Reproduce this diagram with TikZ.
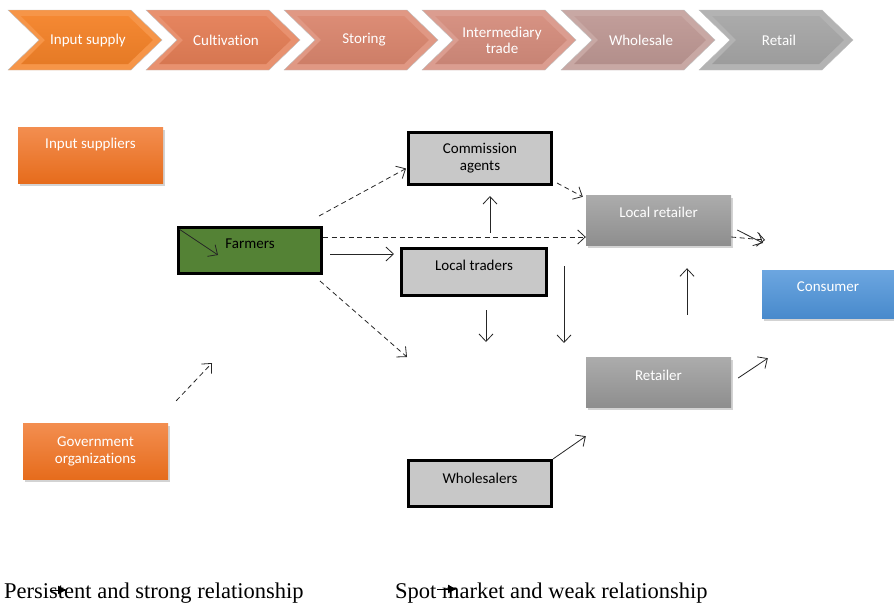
\documentclass[tikz,border=0pt]{standalone}
\usepackage{fontspec}
\setmainfont[Ligatures=NoCommon]{Carlito}
\newfontfamily\legendfont{Liberation Serif}
\usetikzlibrary{arrows.meta,shadows,calc}

\definecolor{chA}{RGB}{244,130,40}
\definecolor{chB}{RGB}{228,126,86}
\definecolor{chC}{RGB}{218,134,110}
\definecolor{chD}{RGB}{212,140,124}
\definecolor{chE}{RGB}{190,152,148}
\definecolor{chF}{RGB}{166,166,166}
\definecolor{orTop}{RGB}{243,142,80}
\definecolor{orBot}{RGB}{230,108,28}
\definecolor{grTop}{RGB}{172,172,172}
\definecolor{grBot}{RGB}{142,142,142}
\definecolor{blTop}{RGB}{108,166,224}
\definecolor{blBot}{RGB}{72,138,204}
\definecolor{farmgreen}{RGB}{84,130,53}
\definecolor{boxgrey}{RGB}{200,200,200}

\begin{document}
\begin{tikzpicture}[x=1pt,y=-1pt,
  font=\fontsize{15}{17}\selectfont,
  chevtext/.style={text=white, align=center, font=\fontsize{15}{16}\selectfont},
  softbox/.style={rectangle, draw=none, shading=axis,
    drop shadow={opacity=0.35, shadow xshift=2pt, shadow yshift=-3pt}},
  orangebox/.style={softbox, top color=orTop, bottom color=orBot},
  greybox/.style={softbox, top color=grTop, bottom color=grBot},
  bluebox/.style={softbox, top color=blTop, bottom color=blBot},
  strongbox/.style={rectangle, draw=black, line width=3pt, fill=boxgrey},
  toptext/.style={text=white, anchor=north, align=center},
  solidarrow/.style={draw=black!85, line width=0.8pt,
    -{Straight Barb[length=7.5pt,width=14pt]}},
  dasharrow/.style={solidarrow, dash pattern=on 5pt off 3.5pt},
  legendtext/.style={anchor=base west, inner sep=0pt,
    font=\legendfont\fontsize{22.5}{26}\selectfont},
  legendarrow/.style={draw=black, line width=0.8pt,
    -{Latex[length=9pt,width=9pt]}}
]
\useasboundingbox (0,0) rectangle (894,603);

% value-chain chevrons
\foreach \i/\xo/\col/\txt in {1/8/chA/Input supply, 2/146/chB/Cultivation,
    3/284/chC/Storing, 4/422/chD/{Intermediary\\trade},
    5/561/chE/Wholesale, 6/699/chF/Retail} {
  \fill[\col!85!white, draw=black!25, line width=0.4pt]
    (\xo,10) -- (\xo+123,10) -- (\xo+154,40) -- (\xo+123,70)
    -- (\xo,70) -- (\xo+31,40) -- cycle;
  \shade[top color=\col!95!white, bottom color=\col!94!black]
    (\xo+13,16) -- (\xo+120,16) -- (\xo+145,40) -- (\xo+120,64)
    -- (\xo+13,64) -- (\xo+37,40) -- cycle;
  \node[chevtext] (chev\i) at (\xo+80,40) {\txt};
}

% actors
\node[orangebox, minimum width=145pt, minimum height=56pt,
  label={[toptext, yshift=-8pt]north:Input suppliers}]
  (inp) at (90.5,155) {};
\node[orangebox, minimum width=145pt, minimum height=56pt,
  align=center, text=white] (gov) at (95.5,451) {Government\\organizations};
\node[rectangle, draw=black, line width=3pt, fill=farmgreen,
  minimum width=143pt, minimum height=46pt,
  label={[anchor=north, yshift=-9pt]north:Farmers}]
  (farm) at (250,250.5) {};
\node[strongbox, minimum width=143pt, minimum height=52pt, align=center]
  (comm) at (480,158.5) {Commission\\agents};
\node[strongbox, minimum width=145pt, minimum height=47pt,
  label={[anchor=north, yshift=-10pt]north:Local traders}]
  (loct) at (474,272) {};
\node[strongbox, minimum width=143pt, minimum height=46pt,
  label={[anchor=north, yshift=-11pt]north:Wholesalers}]
  (whol) at (480,483.5) {};
\node[greybox, minimum width=145pt, minimum height=50pt,
  label={[toptext, yshift=-9pt]north:Local retailer}]
  (locr) at (658.5,220) {};
\node[greybox, minimum width=145pt, minimum height=50pt,
  label={[toptext, yshift=-10pt]north:Retailer}]
  (ret) at (658.5,382) {};
\node[bluebox, minimum width=132pt, minimum height=48pt,
  label={[toptext, yshift=-8pt]north:Consumer}]
  (cons) at (828,294) {};

% free ends of connectors
\coordinate (farmlow) at (407,357);
\coordinate (govup) at (212,363);
\coordinate (midup) at ($(comm.south)+(10,47)$);
\coordinate (ltlow) at ($(loct.south)+(12,45)$);
\coordinate (gapA) at (564,266);
\coordinate (gapB) at (564,343);
\coordinate (consA) at (765,240);
\coordinate (consB) at (763,243);

% relationships
\draw[solidarrow] ($(farm.north west)+(2,3)$) -- ($(farm.north west)+(41,29)$);
\draw[dasharrow] ($(farm.north east)+(-4,-10)$) -- ($(comm.west)+(-1,10)$);
\draw[dasharrow] ($(farm.east)+(0,-13.5)$) -- ($(locr.west)+(0,17)$);
\draw[solidarrow] ($(farm.east)+(7,3.5)$) -- ($(loct.west)+(-6,-18)$);
\draw[dasharrow] ($(farm.south east)+(-3,6)$) -- (farmlow);
\draw[dasharrow] ($(comm.south east)+(4,-3)$) -- ($(locr.north west)+(-3,2)$);
\draw[solidarrow] (midup) -- ($(comm.south)+(10,10)$);
\draw[solidarrow] ($(loct.south)+(12,13)$) -- (ltlow);
\draw[solidarrow] (gapA) -- (gapB);
\draw[solidarrow] ($(ret.north)+(28.5,-42)$) -- ($(locr.south)+(28.5,23)$);
\draw[dasharrow] ($(locr.east)+(0,17)$) -- (consA);
\draw[solidarrow] ($(locr.east)+(6,10)$) -- (consB);
\draw[solidarrow] ($(ret.east)+(7,-4)$) -- ($(cons.south west)+(6,40)$);
\draw[solidarrow] (whol.north east) -- ($(ret.south west)+(0,29)$);
\draw[dasharrow] ($(gov.north east)+(8,-22)$) -- (govup);

% legend
\node[legendtext] (legA) at (4,598) {Persistent and strong relationship};
\node[legendtext] (legB) at (395,598) {Spot market and weak relationship};
\coordinate (legAs) at (50,590);
\coordinate (legAe) at (67,590);
\coordinate (legBs) at (437,589);
\coordinate (legBe) at (457,589);
\draw[legendarrow] (legAs) -- (legAe);
\draw[legendarrow] (legBs) -- (legBe);
\end{tikzpicture}
\end{document}
